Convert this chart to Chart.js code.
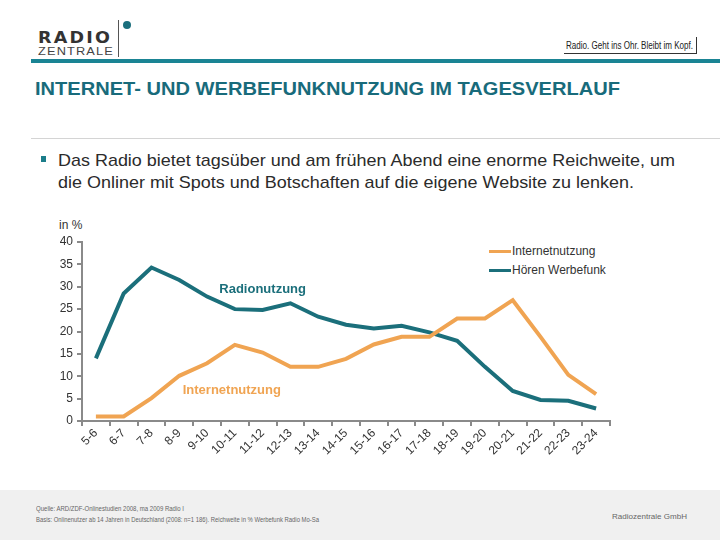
<!DOCTYPE html>
<html>
<head>
<meta charset="utf-8">
<script src="https://cdn.jsdelivr.net/npm/chart.js@4.4.0/dist/chart.umd.min.js"></script>
<style>
  body { margin: 0; width: 720px; height: 540px; position: relative; overflow: hidden; background: #fff; font-family: Arial, "Liberation Sans", sans-serif; }
  .abs { position: absolute; white-space: nowrap; }
  .fit { transform-origin: 0 0; display: inline-block; }
</style>
</head>
<body>
<!-- header -->
<div class="abs" style="left:38px;top:30px;font:bold 16px 'DejaVu Sans',Arial;letter-spacing:2px;color:#333;line-height:16px"><span class="fit" data-w="74">RADIO</span></div>
<div class="abs" style="left:38px;top:46px;font:11px Arial;letter-spacing:1px;color:#444;line-height:11px"><span class="fit" data-w="76">ZENTRALE</span></div>
<div class="abs" style="left:118px;top:20px;width:1px;height:37px;background:#555"></div>
<div class="abs" style="left:123px;top:21px;width:8px;height:8px;border-radius:4px;background:#1b6f7d"></div>
<div class="abs" style="left:566px;top:41px;font:10px Arial;color:#222;line-height:10px"><span class="fit" data-w="127">Radio. Geht ins Ohr. Bleibt im Kopf.</span></div>
<div class="abs" style="left:564px;top:53px;width:133px;height:1px;background:#333"></div>
<div class="abs" style="left:696px;top:37px;width:1px;height:17px;background:#333"></div>
<div class="abs" style="left:31px;top:59px;width:689px;height:4px;background:#1a8494"></div>

<div class="abs" style="left:35px;top:79px;font:bold 19px Arial;color:#186b7b;line-height:20px"><span class="fit" data-w="585">INTERNET- UND WERBEFUNKNUTZUNG IM TAGESVERLAUF</span></div>
<div class="abs" style="left:31px;top:138px;width:689px;height:1px;background:#d4d4d4"></div>

<div class="abs" style="left:41px;top:156px;width:5px;height:6px;background:#1b7d8a"></div>
<div class="abs" style="left:58px;top:150px;font:17px Arial;color:#2b2b2b;line-height:22px"><span class="fit" data-w="617">Das Radio bietet tagsüber und am frühen Abend eine enorme Reichweite, um</span></div>
<div class="abs" style="left:58px;top:172px;font:17px Arial;color:#2b2b2b;line-height:22px"><span class="fit" data-w="576">die Onliner mit Spots und Botschaften auf die eigene Website zu lenken.</span></div>

<div class="abs" style="left:59px;top:219px;font:12px Arial;color:#333;line-height:13px">in %</div>

<!-- legend -->
<div class="abs" style="left:489px;top:250px;width:22px;height:3px;background:#f0a452"></div>
<div class="abs" style="left:512px;top:244px;font:12px Arial;color:#333;line-height:14px">Internetnutzung</div>
<div class="abs" style="left:489px;top:269px;width:22px;height:3px;background:#1b6f7b"></div>
<div class="abs" style="left:512px;top:263px;font:12px Arial;color:#333;line-height:14px">Hören Werbefunk</div>

<canvas id="chart" width="720" height="260" style="position:absolute;left:0;top:230px"></canvas>

<!-- footer -->
<div class="abs" style="left:0;top:490px;width:720px;height:50px;background:#f0f0f0"></div>
<div class="abs" style="left:36px;top:503px;font:8px Arial;color:#666;line-height:11px"><span class="fit" data-w="148">Quelle: ARD/ZDF-Onlinestudien 2008, ma 2009 Radio I</span></div>
<div class="abs" style="left:36px;top:514px;font:8px Arial;color:#666;line-height:11px"><span class="fit" data-w="283">Basis: Onlinenutzer ab 14 Jahren in Deutschland (2008: n=1 186). Reichweite in % Werbefunk Radio Mo-Sa</span></div>
<div class="abs" style="left:612px;top:511px;font:8px Arial;color:#666;line-height:11px"><span class="fit" data-w="75">Radiozentrale GmbH</span></div>

<script>
document.querySelectorAll('.fit').forEach(function (el) {
    const w = el.getBoundingClientRect().width;
    el.style.transform = 'scaleX(' + (Number(el.dataset.w) / w) + ')';
});

// Data
const hours = ['5-6', '6-7', '7-8', '8-9', '9-10', '10-11', '11-12', '12-13', '13-14', '14-15',
    '15-16', '16-17', '17-18', '18-19', '19-20', '20-21', '21-22', '22-23', '23-24'];
const internetUse = [1.0, 1.0, 5.1, 10.1, 12.9, 17.0, 15.3, 12.1, 12.1, 13.9,
    17.1, 18.8, 18.8, 22.9, 22.9, 27.0, 18.8, 10.3, 6.0];
const radioAdUse = [14.0, 28.5, 34.3, 31.5, 27.8, 25.0, 24.8, 26.3, 23.3, 21.5,
    20.7, 21.3, 19.8, 17.9, 12.1, 6.7, 4.7, 4.5, 2.8];
const yTicks = [0, 5, 10, 15, 20, 25, 30, 35, 40];

const orange = '#f0a452';
const teal = '#1b6f7b';
const axisGrey = '#8a8a8a';

// labels written inside the plot
const inlineLabels = {
    id: 'inlineLabels',
    afterDatasetsDraw(chart) {
        const ctx = chart.ctx;
        const x = chart.scales.x;
        const y = chart.scales.y;
        ctx.save();
        ctx.font = 'bold 13px Arial';
        ctx.textAlign = 'center';
        ctx.textBaseline = 'middle';
        ctx.fillStyle = teal;
        ctx.fillText('Radionutzung', x.getPixelForValue(6), y.getPixelForValue(29.5));
        ctx.fillStyle = orange;
        ctx.fillText('Internetnutzung', x.getPixelForValue(5) - 3, y.getPixelForValue(6.9));
        ctx.restore();
    }
};

new Chart(document.getElementById('chart').getContext('2d'), {
    type: 'line',
    data: {
        labels: hours,
        datasets: [{
            label: 'Internetnutzung',
            data: internetUse,
            borderColor: orange,
            borderWidth: 4,
            pointRadius: 0,
            tension: 0
        }, {
            label: 'Hören Werbefunk',
            data: radioAdUse,
            borderColor: teal,
            borderWidth: 4,
            pointRadius: 0,
            tension: 0
        }]
    },
    options: {
        responsive: false,
        animation: false,
        layout: { padding: { top: 12, right: 110, left: 0, bottom: 0 } },
        plugins: {
            legend: { display: false },
            tooltip: { enabled: false }
        },
        scales: {
            x: {
                offset: true,
                afterFit(s) { s.height = 69; },
                grid: { offset: true, drawOnChartArea: false, tickLength: 5, color: axisGrey, lineWidth: 2 },
                border: { color: axisGrey, width: 2 },
                ticks: {
                    maxRotation: 45, minRotation: 45, autoSkip: false,
                    color: '#333', font: { family: 'Arial', size: 12 }, padding: 0
                }
            },
            y: {
                min: 0,
                max: 40,
                afterFit(s) { s.width = 82; },
                afterBuildTicks(s) { s.ticks = yTicks.map(v => ({ value: v })); },
                grid: { drawOnChartArea: false, tickLength: 5, color: axisGrey, lineWidth: 2 },
                border: { color: axisGrey, width: 2 },
                ticks: { color: '#333', font: { family: 'Arial', size: 12 }, padding: 4 }
            }
        }
    },
    plugins: [inlineLabels]
});
</script>
</body>
</html>
